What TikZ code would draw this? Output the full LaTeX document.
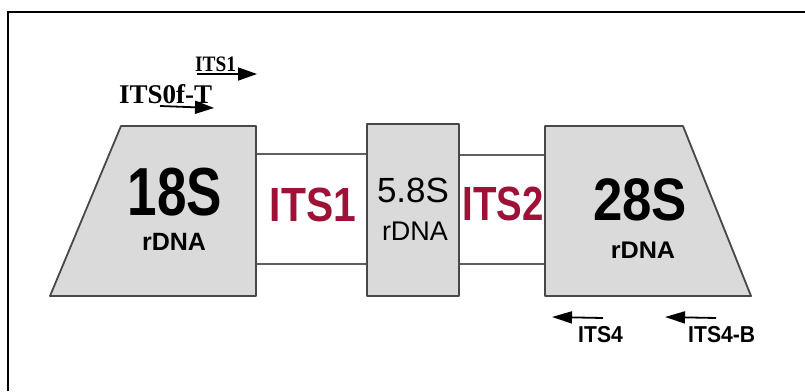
\documentclass[tikz,border=0pt]{standalone}
\usepackage{fontspec}
\setmainfont{Liberation Serif}
\setsansfont{Liberation Sans}
\usetikzlibrary{arrows.meta}
\definecolor{boxgray}{RGB}{218,218,218}
\definecolor{edgegray}{RGB}{72,72,72}
\definecolor{bandgray}{RGB}{95,95,95}
\definecolor{itsred}{RGB}{158,18,55}
\begin{document}
\begin{tikzpicture}[x=1pt,y=-1pt,
  region/.style={fill=boxgray,draw=edgegray,line width=1.8pt,line join=round},
  band/.style={draw=bandgray,line width=1.4pt},
  frameline/.style={draw=black,line width=2.4pt},
  lbl/.style={inner sep=0pt,anchor=base,text=black},
  primer/.style={-{Triangle[length=19pt,width=13pt]},line width=1.8pt,black},
  revprimer/.style={-{Triangle[length=20pt,width=12pt]},line width=1.8pt,black}]
\useasboundingbox (0,0) rectangle (805,391);
\draw[frameline] (8,391) -- (8,12) -- (805,12);

% regions
\coordinate (t18a) at (121,126); \coordinate (t18b) at (256,126);
\coordinate (t18c) at (256,296); \coordinate (t18d) at (50,296);
\coordinate (t28a) at (545,126); \coordinate (t28b) at (683,126);
\coordinate (t28c) at (751,296); \coordinate (t28d) at (545,296);
\coordinate (b58a) at (367,124); \coordinate (b58c) at (459,296);

% bands (ITS spacers)
\draw[band] (t18b |- 0,154) -- (b58a |- 0,154);
\draw[band] (t18b |- 0,264) -- (b58a |- 0,264);
\draw[band] (b58c |- 0,155) -- (t28a |- 0,155);
\draw[band] (b58c |- 0,264) -- (t28a |- 0,264);

\draw[region] (t18a) -- (t18b) -- (t18c) -- (t18d) -- cycle;
\draw[region] (b58a) rectangle (b58c);
\draw[region] (t28a) -- (t28b) -- (t28c) -- (t28d) -- cycle;

% texts in regions
\node[lbl,font=\sffamily\bfseries\fontsize{68}{68}\selectfont] (n18) at (175,215) {\scalebox{0.78}[1]{18S}};
\node[lbl,font=\sffamily\bfseries\fontsize{25}{25}\selectfont] (r18) at (174,250) {\scalebox{1.0}[1]{rDNA}};
\node[lbl,font=\sffamily\bfseries\fontsize{60}{60}\selectfont] (n28) at (640,220) {\scalebox{0.88}[1]{28S}};
\node[lbl,font=\sffamily\bfseries\fontsize{24}{24}\selectfont] (r28) at (643,258) {\scalebox{1.05}[1]{rDNA}};
\node[lbl,font=\sffamily\fontsize{35}{35}\selectfont] (n58) at (413,202) {5.8S};
\node[lbl,font=\sffamily\fontsize{27}{27}\selectfont] (r58) at (415,240) {\scalebox{1.0}[1]{rDNA}};
\node[lbl,text=itsred,font=\sffamily\bfseries\fontsize{48}{48}\selectfont] (its1) at (313,221) {\scalebox{0.85}[1]{ITS1}};
\node[lbl,text=itsred,font=\sffamily\bfseries\fontsize{48}{48}\selectfont] (its2) at (503,220) {\scalebox{0.8}[1]{ITS2}};

% forward primers
\node[lbl,anchor=base west,font=\bfseries\fontsize{22}{22}\selectfont] (pits1) at (195,71) {\scalebox{0.88}[1]{ITS1}};
\coordinate (pits1s) at (197,74);
\coordinate (pits1t) at (257,74);
\draw[primer] (pits1s) -- (pits1t);
\node[lbl,anchor=base west,font=\bfseries\fontsize{27}{27}\selectfont] (pits0) at (119,103) {ITS0f-T};
\coordinate (pits0s) at (160,106);
\coordinate (pits0t) at (214,108);
\draw[primer] (pits0s) -- (pits0t);

% reverse primers
\node[lbl,anchor=base west,font=\sffamily\bfseries\fontsize{23}{23}\selectfont] (pits4) at (578,342) {\scalebox{0.92}[1]{ITS4}};
\coordinate (pits4s) at (603,318);
\coordinate (pits4t) at (552,317);
\draw[revprimer] (pits4s) -- (pits4t);
\node[lbl,anchor=base west,font=\sffamily\bfseries\fontsize{23}{23}\selectfont] (pits4b) at (688,342) {\scalebox{0.92}[1]{ITS4-B}};
\coordinate (pits4bs) at (716,318);
\coordinate (pits4bt) at (665,317);
\draw[revprimer] (pits4bs) -- (pits4bt);
\end{tikzpicture}
\end{document}
